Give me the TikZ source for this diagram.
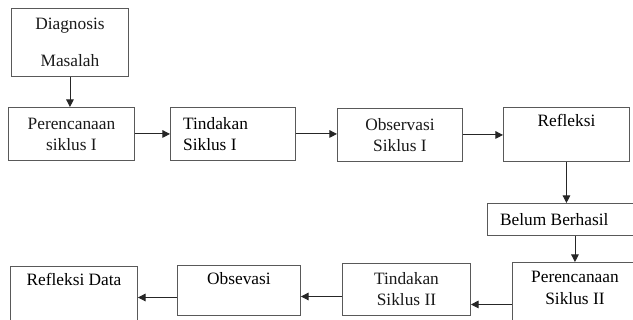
\documentclass[tikz,border=0pt]{standalone}
\usepackage{fontspec}
\setmainfont{Liberation Serif}
\usetikzlibrary{arrows.meta}
\newdimen\px
\px=0.03cm

\begin{document}
\begin{tikzpicture}[x=0.03cm, y=-0.03cm,
    kotak/.style={draw=black!65, line width=0.8pt, anchor=north west, inner sep=0pt, align=center, text=black!90},
    panah/.style={draw=black!85, line width=0.8pt, -{Triangle[length=6.5pt, width=6.5pt]}},
    every node/.style={font=\fontsize{14.8}{18}\selectfont}]
\useasboundingbox (0,0) rectangle (633,320);
\clip (0,0) rectangle (633,320);

\node[kotak, minimum width=117*\px, minimum height=68*\px] (diag) at (11,8) {Diagnosis\\[14pt]Masalah};
\node[kotak, minimum width=126*\px, minimum height=53*\px] (p1) at (8,107) {Perencanaan\\siklus I};
\node[kotak, minimum width=125*\px, minimum height=53*\px,
    label={[anchor=west, align=left, xshift=11pt, inner sep=0pt]west:Tindakan\\Siklus I}] (t1) at (170,107) {};
\node[kotak, minimum width=125*\px, minimum height=53*\px] (o1) at (337,108) {Observasi\\Siklus I};
\node[kotak, minimum width=126*\px, minimum height=54*\px,
    label={[anchor=north, yshift=-6pt, inner sep=0pt]north:Refleksi}] (ref) at (503,107) {};
\node[kotak, minimum width=160*\px, minimum height=32*\px,
    label={[anchor=west, xshift=11pt, inner sep=0pt]west:Belum Berhasil}] (bb) at (487,203) {};
\node[kotak, minimum width=125*\px, minimum height=70*\px,
    label={[anchor=north, align=center, yshift=-8pt, inner sep=0pt]north:Perencanaan\\Siklus II}] (p2) at (512,262) {};
\node[kotak, minimum width=128*\px, minimum height=52*\px] (t2) at (342,263) {Tindakan\\Siklus II};
\node[kotak, minimum width=123*\px, minimum height=50*\px,
    label={[anchor=north, yshift=-6pt, inner sep=0pt]north:Obsevasi}] (obs) at (177,265) {};
\node[kotak, minimum width=127*\px, minimum height=70*\px,
    label={[anchor=north, yshift=-6pt, inner sep=0pt]north:Refleksi Data}] (rd) at (10,266) {};

\draw[panah] (diag.south) -- (diag.south |- p1.north);
\draw[panah] (p1.east) -- (p1.east -| t1.west);
\draw[panah] (t1.east) -- (t1.east -| o1.west);
\draw[panah] (o1.east) -- (o1.east -| ref.west);
\draw[panah] (ref.south) -- (ref.south |- bb.north);
\draw[panah] (p2.north |- bb.south) -- (p2.north);
\draw[panah] ([yshift=-12.8pt]t2.east -| p2.west) -- ([yshift=-12.8pt]t2.east);
\draw[panah] ([yshift=-6pt]t2.west) -- ([yshift=-6pt]t2.west -| obs.east);
\draw[panah] ([yshift=-6pt]obs.west) -- ([yshift=-6pt]obs.west -| rd.east);

\end{tikzpicture}
\end{document}
